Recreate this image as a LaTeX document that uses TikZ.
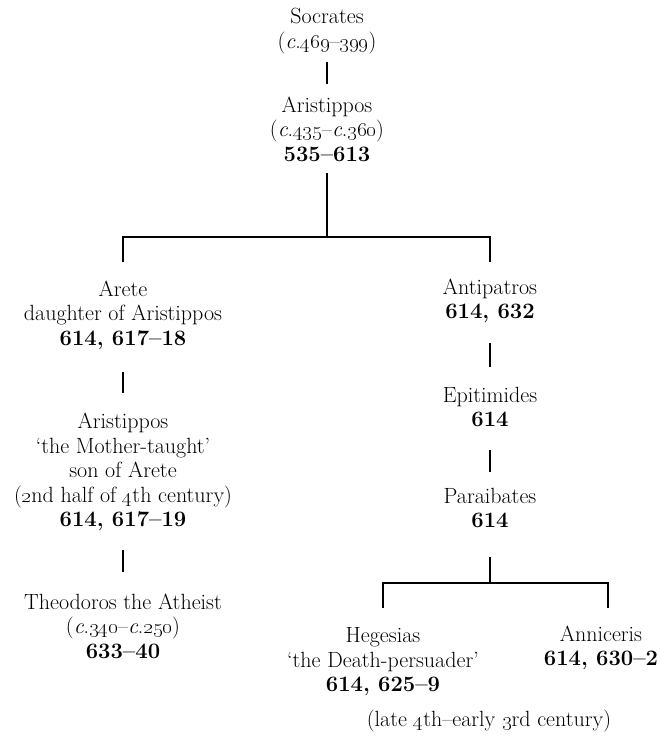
\documentclass[tikz,border=0pt]{standalone}
\begin{document}
\frenchspacing
\begin{tikzpicture}[x=1pt,y=-1pt,
  person/.style={align=center,inner sep=0pt,font=\fontsize{22}{24.5}\selectfont},
  link/.style={line width=1.4pt}]
\useasboundingbox (0,0) rectangle (661,742);
\newcommand{\os}[1]{\oldstylenums{#1}}
\node[person] (soc) at (327,31) {Socrates\\(\textit{c}.\os{469}–\os{399})};
\node[person] (ari) at (327,129) {Aristippos\\(\textit{c}.\os{435}–\textit{c}.\os{360})\\\textbf{535–613}};
\node[person] (arete) at (123,315) {Arete\\daughter of Aristippos\\\textbf{614, 617–18}};
\node[person] (ant) at (490,301) {Antipatros\\\textbf{614, 632}};
\node[person] (ari2) at (123,472) {Aristippos\\‘the Mother-taught’\\son of Arete\\(\os{2}nd half of \os{4}th century)\\\textbf{614, 617–19}};
\node[person] (theo) at (123,626) {Theodoros the Atheist\\(\textit{c}.\os{340}–\textit{c}.\os{250})\\\textbf{633–40}};
\node[person] (epi) at (490,407) {Epitimides\\\textbf{614}};
\node[person] (para) at (490,508) {Paraibates\\\textbf{614}};
\node[person] (heg) at (383,662) {Hegesias\\‘the Death-persuader’\\\textbf{614, 625–9}};
\node[person] (ann) at (601,648) {Anniceris\\\textbf{614, 630–2}};
\node[person] (late) at (489,721) {(late \os{4}th–early \os{3}rd century)};
\coordinate (bar1) at (327,237);
\coordinate (bar2) at (490,583);
\draw[link] (soc |- 0,62) -- (ari |- 0,84);
\draw[link] (ari |- 0,173) -- (bar1);
\draw[link] (bar1) -| (arete |- 0,262);
\draw[link] (bar1) -| (ant |- 0,262);
\draw[link] (arete |- 0,372) -- (ari2 |- 0,393);
\draw[link] (ari2 |- 0,550) -- (theo |- 0,572);
\draw[link] (ant |- 0,343) -- (epi |- 0,367);
\draw[link] (epi |- 0,450) -- (para |- 0,472);
\draw[link] (para |- 0,557) -- (bar2);
\draw[link] (bar2) -| (heg |- 0,608);
\draw[link] (bar2) -| (608,608);
\end{tikzpicture}
\end{document}
